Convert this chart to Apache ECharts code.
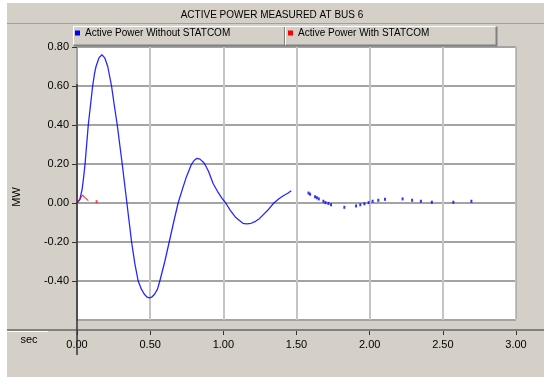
<!DOCTYPE html>
<html>
<head>
<meta charset="utf-8">
<script src="https://cdn.jsdelivr.net/npm/echarts@6/dist/echarts.min.js"></script>
<style>
  html, body { margin: 0; padding: 0; background: #fff; }
  #chart { width: 544px; height: 377px; }
</style>
</head>
<body>
<div id="chart"></div>
<script>
const chartTitle = 'ACTIVE POWER MEASURED AT BUS 6'
const nameWithout = 'Active Power Without STATCOM'
const nameWith = 'Active Power With STATCOM'

// continuous part of the blue trace (sec, MW)
const timeWithout = [0, 0.02, 0.035, 0.045, 0.055, 0.066, 0.077, 0.092, 0.107, 0.12, 0.13, 0.15, 0.17, 0.19,
  0.21, 0.236, 0.255, 0.275, 0.292, 0.309, 0.325, 0.341, 0.357, 0.373, 0.395, 0.418, 0.44, 0.46, 0.48, 0.495,
  0.51, 0.53, 0.55, 0.566, 0.6, 0.63, 0.66, 0.691, 0.72, 0.748, 0.78, 0.8, 0.82, 0.84, 0.86, 0.873, 0.9, 0.93,
  0.96, 0.99, 1.016, 1.05, 1.08, 1.11, 1.134, 1.16, 1.19, 1.22, 1.248, 1.3, 1.345, 1.38, 1.407, 1.44, 1.464]
const powerWithout = [0, 0.02, 0.07, 0.13, 0.2, 0.3, 0.4, 0.5, 0.6, 0.665, 0.7, 0.744, 0.76, 0.744,
  0.7, 0.6, 0.5, 0.4, 0.3, 0.2, 0.1, 0, -0.1, -0.2, -0.31, -0.4, -0.442, -0.468, -0.483, -0.486,
  -0.483, -0.468, -0.442, -0.4, -0.3, -0.2, -0.1, 0, 0.07, 0.135, 0.195, 0.218, 0.229, 0.225, 0.212, 0.2, 0.16, 0.1,
  0.06, 0.025, 0, -0.04, -0.07, -0.09, -0.104, -0.107, -0.104, -0.094, -0.079, -0.04, 0, 0.022, 0.036, 0.05, 0.063]

// sparse dots of the blue trace after the gap
const dotTimeWithout = [1.582, 1.593, 1.627, 1.639, 1.652, 1.684, 1.698, 1.718, 1.736, 1.827, 1.907, 1.936,
  1.964, 1.993, 2.02, 2.059, 2.105, 2.225, 2.29, 2.35, 2.425, 2.572, 2.695]
const dotPowerWithout = [0.051, 0.045, 0.032, 0.027, 0.021, 0.009, 0.002, -0.002, -0.009, -0.022, -0.015, -0.009,
  -0.004, 0.002, 0.009, 0.014, 0.019, 0.021, 0.014, 0.009, 0.004, 0.004, 0.009]

// red trace
const timeWith = [0, 0.015, 0.028, 0.039, 0.05, 0.062, 0.077]
const powerWith = [0, 0.012, 0.03, 0.041, 0.03, 0.022, 0.012]
const dotTimeWith = [0.134]
const dotPowerWith = [0.007]

const pairs = (xs, ys) => xs.map((x, i) => [x, ys[i]])

const chart = echarts.init(document.getElementById('chart'), null, { renderer: 'canvas' })
const bg = '#d4d0c8'
const font = '"Liberation Sans", Arial, sans-serif'

const legendBase = {
  top: 23,
  icon: 'rect',
  itemWidth: 5,
  itemHeight: 5,
  textStyle: { fontFamily: font, fontSize: 10, color: '#000' },
  selectedMode: false
}

chart.setOption({
  animation: false,
  backgroundColor: bg,
  title: {
    text: chartTitle,
    left: 'center',
    top: 10,
    padding: 0,
    textStyle: { fontFamily: font, fontSize: 10, fontWeight: 'normal', color: '#000' }
  },
  legend: [
    Object.assign({ left: 70, data: [{ name: nameWithout, itemStyle: { color: '#0000ff' } }] }, legendBase),
    Object.assign({ left: 283, data: [{ name: nameWith, itemStyle: { color: '#ff0000' } }] }, legendBase)
  ],
  grid: {
    left: 77,
    top: 47,
    right: 28,
    bottom: 57,
    show: true,
    backgroundColor: '#fff',
    borderWidth: 0
  },
  xAxis: {
    type: 'value',
    min: 0,
    max: 3,
    interval: 0.5,
    offset: 11,
    axisLine: { show: false, onZero: false },
    axisTick: { show: true, length: 4, lineStyle: { color: '#333' } },
    axisLabel: {
      margin: 8,
      fontFamily: font,
      fontSize: 11,
      color: '#000',
      formatter: v => v.toFixed(2)
    },
    splitLine: { show: true, lineStyle: { color: '#c4c4c4', width: 2 } }
  },
  yAxis: {
    type: 'value',
    min: -0.6,
    max: 0.8,
    interval: 0.2,
    axisLine: { show: true, onZero: false, lineStyle: { color: '#a0a0a0', width: 2 } },
    axisTick: { show: true, length: 5, lineStyle: { color: '#333' } },
    axisLabel: {
      margin: 8,
      fontFamily: font,
      fontSize: 11,
      color: '#000',
      showMinLabel: false,
      formatter: v => v.toFixed(2)
    },
    splitLine: { show: true, lineStyle: { color: '#a3a3a3', width: 2 } }
  },
  graphic: [
    { type: 'rect', shape: { x: 0, y: 0, width: 544, height: 3 }, style: { fill: '#fff' }, z: 100 },
    { type: 'rect', shape: { x: 0, y: 0, width: 7, height: 377 }, style: { fill: '#fff' }, z: 100 },
    { type: 'line', shape: { x1: 7, y1: 23.5, x2: 544, y2: 23.5 }, style: { stroke: '#a0a0a0', lineWidth: 1 }, z: 100 },
    // legend band
    { type: 'polyline', shape: { points: [[73.5, 45.5], [73.5, 26.5], [496.5, 26.5]] }, style: { stroke: '#fff', fill: null, lineWidth: 1 }, z: 100 },
    { type: 'polyline', shape: { points: [[73.5, 45.5], [496.5, 45.5], [496.5, 26.5]] }, style: { stroke: '#808080', fill: null, lineWidth: 2 }, z: 100 },
    { type: 'line', shape: { x1: 284.5, y1: 27, x2: 284.5, y2: 45 }, style: { stroke: '#808080', lineWidth: 1 }, z: 100 },
    { type: 'line', shape: { x1: 285.5, y1: 27, x2: 285.5, y2: 45 }, style: { stroke: '#fff', lineWidth: 1 }, z: 100 },
    // right edge of plot
    { type: 'line', shape: { x1: 516.5, y1: 47, x2: 516.5, y2: 319 }, style: { stroke: '#b0b0b0', lineWidth: 1 }, z: 100 },
    // x axis line across the panel
    { type: 'line', shape: { x1: 7, y1: 330, x2: 544, y2: 330 }, style: { stroke: '#808080', lineWidth: 2 }, z: 100 },
    { type: 'line', shape: { x1: 7, y1: 331.5, x2: 48, y2: 331.5 }, style: { stroke: '#fff', lineWidth: 1 }, z: 100 },
    // dark part of the y axis
    { type: 'line', shape: { x1: 77, y1: 84, x2: 77, y2: 355 }, style: { stroke: '#333', lineWidth: 1.5 }, z: 100 },
    {
      type: 'text', x: 17, y: 197, rotation: Math.PI / 2, z: 100,
      style: { text: 'MW', fontFamily: font, fontSize: 11, fill: '#000', align: 'center', verticalAlign: 'middle' }
    },
    {
      type: 'text', x: 29, y: 340, z: 100,
      style: { text: 'sec', fontFamily: font, fontSize: 11, fill: '#000', align: 'center', verticalAlign: 'middle' }
    }
  ],
  series: [
    {
      name: nameWithout,
      type: 'line',
      data: pairs(timeWithout, powerWithout),
      symbol: 'none',
      lineStyle: { color: '#0000ff', width: 1.3, opacity: 0.85 },
      itemStyle: { color: '#0000ff' },
      z: 3
    },
    {
      name: nameWithout,
      type: 'scatter',
      data: pairs(dotTimeWithout, dotPowerWithout),
      symbol: 'rect',
      symbolSize: [2, 3],
      itemStyle: { color: '#0000ff', opacity: 0.8 },
      z: 3
    },
    {
      name: nameWith,
      type: 'line',
      data: pairs(timeWith, powerWith),
      symbol: 'none',
      lineStyle: { color: '#ff0000', width: 1.2, opacity: 0.8 },
      itemStyle: { color: '#ff0000' },
      z: 4
    },
    {
      name: nameWith,
      type: 'scatter',
      data: pairs(dotTimeWith, dotPowerWith),
      symbol: 'rect',
      symbolSize: [2, 3],
      itemStyle: { color: '#ff0000', opacity: 0.7 },
      z: 4
    }
  ]
})
</script>
</body>
</html>
